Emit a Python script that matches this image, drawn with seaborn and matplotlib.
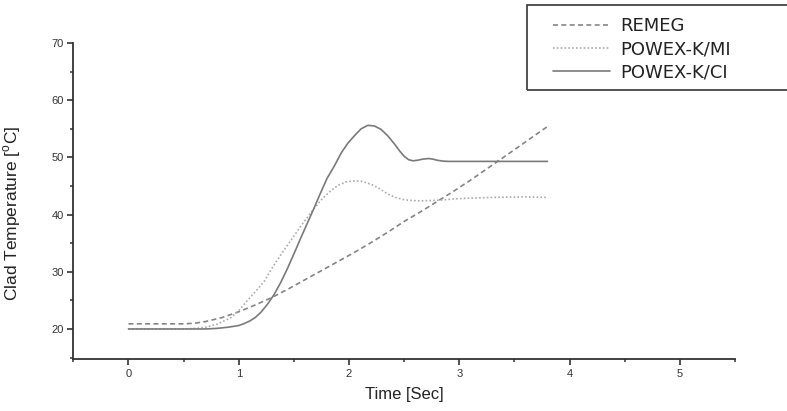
import matplotlib
matplotlib.use("Agg")
import matplotlib.pyplot as plt
from matplotlib.patches import Rectangle
import pandas as pd
import seaborn as sns

# values
remeg_time = [0.0, 0.5, 0.6, 0.7, 0.85, 1.0, 1.15, 1.3, 1.45, 1.6, 1.75, 1.9, 2.05, 2.2,
              2.35, 2.5, 2.65, 2.8, 2.95, 3.1, 3.25, 3.4, 3.6, 3.8]
remeg_temp = [20.9, 20.9, 21.0, 21.3, 22.0, 23.0, 24.2, 25.5, 27.0, 28.6, 30.2, 31.8,
              33.4, 35.1, 36.9, 38.8, 40.5, 42.3, 44.1, 46.0, 48.0, 50.0, 52.7, 55.4]

mi_time = [0.0, 0.5, 0.6, 0.7, 0.8, 0.93, 1.0, 1.08, 1.15, 1.23, 1.32, 1.44, 1.56, 1.68,
           1.75, 1.83, 1.9, 1.97, 2.05, 2.12, 2.2, 2.28, 2.35, 2.42, 2.5, 2.58, 2.65,
           2.8, 3.0, 3.3, 3.6, 3.8]
mi_temp = [20.0, 20.0, 20.1, 20.3, 20.8, 22.0, 23.2, 25.0, 26.5, 28.3, 31.2, 34.6, 37.9,
           41.0, 42.6, 44.1, 45.1, 45.7, 45.9, 45.8, 45.3, 44.5, 43.6, 43.0, 42.6, 42.45,
           42.4, 42.5, 42.8, 43.0, 43.1, 43.0]

ci_time = [0.0, 0.5, 0.7, 0.8, 0.9, 1.0, 1.05, 1.1, 1.15, 1.2, 1.26, 1.32, 1.38, 1.44,
           1.5, 1.56, 1.62, 1.68, 1.74, 1.8, 1.87, 1.93, 1.99, 2.05, 2.11, 2.17, 2.23,
           2.29, 2.35, 2.41, 2.46, 2.5, 2.54, 2.58, 2.62, 2.67, 2.72, 2.76, 2.8, 2.85,
           2.9, 3.2, 3.8]
ci_temp = [20.0, 20.0, 20.0, 20.1, 20.3, 20.6, 20.95, 21.4, 22.0, 22.9, 24.3, 26.0, 28.1,
           30.5, 33.1, 35.8, 38.4, 41.0, 43.7, 46.3, 48.6, 50.8, 52.5, 53.8, 55.0, 55.6,
           55.5, 54.9, 53.8, 52.4, 51.1, 50.2, 49.6, 49.4, 49.5, 49.7, 49.8, 49.7, 49.5,
           49.35, 49.3, 49.3, 49.3]

series = ["REMEG", "POWEX-K/MI", "POWEX-K/CI"]

frames = []
for name, t, v in zip(series, [remeg_time, mi_time, ci_time], [remeg_temp, mi_temp, ci_temp]):
    frames.append(pd.DataFrame({"time": t, "temp": v, "case": name}))
data = pd.concat(frames, ignore_index=True)

sns.set_theme(style="ticks")
plt.rcParams["font.family"] = ["Liberation Sans", "DejaVu Sans"]
plt.rcParams["mathtext.fontset"] = "custom"
plt.rcParams["mathtext.rm"] = "Liberation Sans"

fig = plt.figure(figsize=(7.87, 4.11), dpi=100)
ax = fig.add_axes([73.3 / 787, 1 - 359 / 411, (735 - 73.3) / 787, (359 - 43) / 411])

palette = {"REMEG": "#858585", "POWEX-K/MI": "#ababab", "POWEX-K/CI": "#7a7a7a"}
dashes = {"REMEG": (3, 2), "POWEX-K/MI": (1, 1.3), "POWEX-K/CI": ""}
sns.lineplot(data=data, x="time", y="temp", hue="case", style="case",
             palette=palette, dashes=dashes, hue_order=series, style_order=series,
             linewidth=1.2, estimator=None, sort=False, ax=ax)

handles, labels = ax.get_legend_handles_labels()
ax.get_legend().remove()

ax.set_xlim(-0.5, 5.5)
ax.set_ylim(14.75, 70)
ax.set_xticks([0, 1, 2, 3, 4, 5])
ax.set_xticks([-0.5, 0.5, 1.5, 2.5, 3.5, 4.5, 5.5], minor=True)
ax.set_yticks([20, 30, 40, 50, 60, 70])
ax.set_yticks([15, 25, 35, 45, 55, 65], minor=True)
sns.despine(ax=ax)
for side in ["left", "bottom"]:
    ax.spines[side].set_linewidth(1.3)
    ax.spines[side].set_color("#333333")
ax.tick_params(which="major", length=4, width=1.2, color="#333333",
               labelsize=8, labelcolor="#333333", pad=3)
ax.tick_params(which="minor", length=2.2, width=1.1, color="#333333")

ax.set_xlabel("Time [Sec]", fontsize=12, color="#222222", labelpad=6)
ax.set_ylabel("")
fig.text(12 / 787, 1 - 213 / 411, r"Clad Temperature [$^{\mathrm{o}}$C]", rotation=90,
         ha="center", va="center", fontsize=12.5, color="#222222")

fig.patches.append(Rectangle((526.5 / 787, 1 - 90.5 / 411), (800 - 526.5) / 787, 85.5 / 411,
                             transform=fig.transFigure, fill=False, edgecolor="#444444",
                             linewidth=1.3, clip_on=False))
fig.legend(handles, labels, loc="upper left", bbox_to_anchor=(553 / 787, 1 - 17 / 411),
           frameon=False, prop={"family": "DejaVu Sans", "size": 13}, handlelength=3.15,
           handletextpad=0.55, labelspacing=0.28, borderpad=0, borderaxespad=0,
           labelcolor="#222222")

fig.savefig("out.png", dpi=100)
